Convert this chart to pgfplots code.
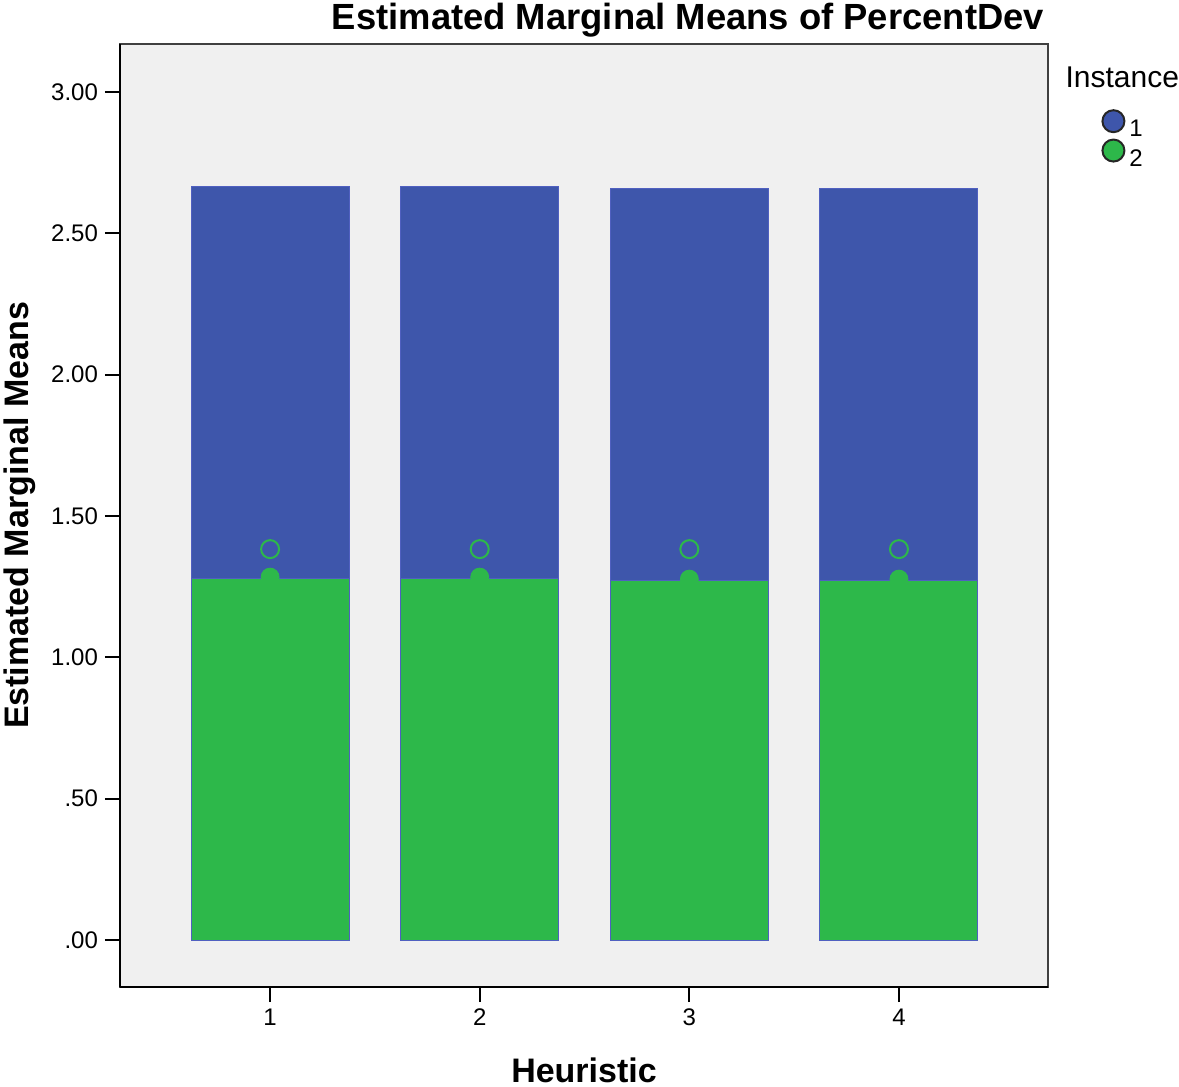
\documentclass[border=0pt]{standalone}
\usepackage{pgfplots}
\pgfplotsset{compat=1.18}
\usepackage{fontspec}
\setmainfont{Liberation Sans}
\definecolor{barblue}{HTML}{3E56AB}
\definecolor{bargreen}{HTML}{2DB84A}
\definecolor{bgray}{HTML}{F0F0F0}
\definecolor{edgeblue}{HTML}{5060C0}
\begin{document}
\begin{tikzpicture}
\useasboundingbox (0,0) rectangle (589.5pt,543.5pt);
\begin{axis}[
  at={(60pt,50pt)}, anchor=south west,
  scale only axis, width=464pt, height=471.5pt,
  xmin=0.284, xmax=4.711, ymin=-0.166, ymax=3.170,
  axis lines=left,
  axis line style={-, black, line width=1pt},
  axis background/.style={fill=bgray, draw=black!75, line width=1pt},
  tick align=outside, major tick length=7.5pt,
  tick style={black, line width=1pt},
  xtick={1,2,3,4}, xticklabels={1,2,3,4},
  ytick={0,0.5,1,1.5,2,2.5,3},
  yticklabels={.00,.50,1.00,1.50,2.00,2.50,3.00},
  ticklabel style={font=\fontsize{12}{14}\selectfont},
  /pgf/number format/assume math mode=true,
  ybar stacked, bar width=79pt,
  title={Estimated Marginal Means of PercentDev},
  title style={font=\bfseries\fontsize{18.2}{21}\selectfont, at={(axis description cs:0.612,1.003)}, anchor=base},
  xlabel={Heuristic},
  xlabel style={font=\bfseries\fontsize{17}{20}\selectfont, at={(axis description cs:0.5,-0.101)}, anchor=base},
  ylabel={Estimated Marginal Means},
  ylabel style={font=\bfseries\fontsize{17}{20}\selectfont, at={(axis description cs:-0.099,0.5)}, anchor=base, rotate=0},
  legend cell align=left,
  legend style={draw=none, fill=none, at={(axis description cs:1.055,0.897)}, anchor=west,
    font=\fontsize{12}{14}\selectfont, row sep=-2.5pt, inner sep=1pt},
]
\addlegendimage{legend image code/.code={\draw[fill=barblue, draw=black!85, line width=1pt] (0.3cm,4.3pt) circle (5.5pt);}}
\addlegendentry{1}
\addlegendimage{legend image code/.code={\draw[fill=bargreen, draw=black!85, line width=1pt] (0.3cm,4.3pt) circle (5.5pt);}}
\addlegendentry{2}
\addplot[fill=bargreen, draw=edgeblue, line width=0.5pt, forget plot] coordinates {(1,1.280) (2,1.280) (3,1.273) (4,1.273)};
\addplot[fill=barblue, draw=edgeblue, line width=0.5pt, forget plot] coordinates {(1,1.387) (2,1.387) (3,1.387) (4,1.387)};
\end{axis}
\begin{axis}[
  at={(60pt,50pt)}, anchor=south west,
  scale only axis, width=464pt, height=471.5pt,
  xmin=0.284, xmax=4.711, ymin=-0.166, ymax=3.170,
  axis lines=none, clip=false,
]
\addplot[only marks, mark=*, mark size=4.5pt, mark options={fill=bargreen, draw=bargreen}] coordinates {(1,1.284) (2,1.284) (3,1.277) (4,1.277)};
\addplot[only marks, mark=o, mark size=4.5pt, mark options={draw=bargreen, line width=1pt}] coordinates {(1,1.383) (2,1.383) (3,1.383) (4,1.383)};
\node[anchor=base, font=\fontsize{15}{17}\selectfont] at (axis description cs:1.080,0.954) {Instance};
\end{axis}
\end{tikzpicture}
\end{document}
